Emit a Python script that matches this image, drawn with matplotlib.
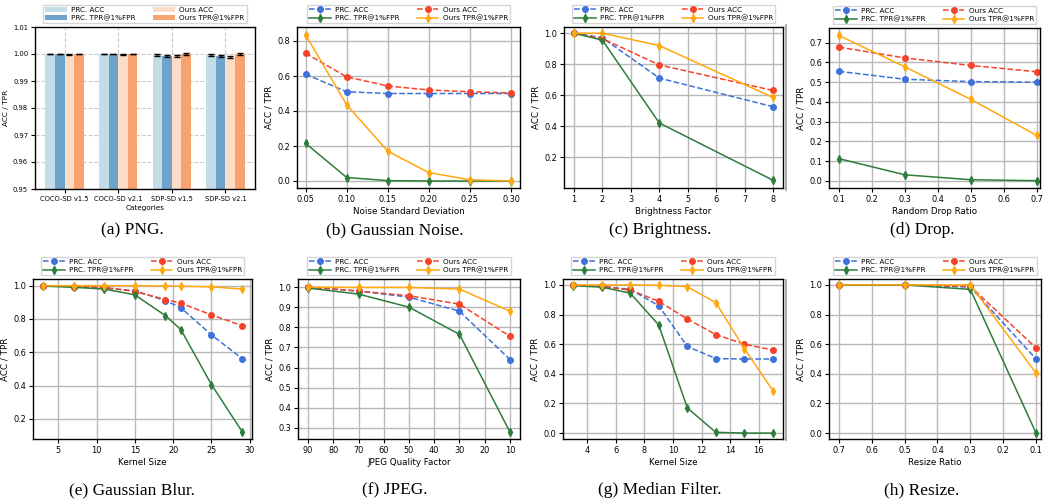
"""
Robustness of PRC vs Ours watermark detection under image perturbations.
"""

import numpy as np
import matplotlib
matplotlib.use('Agg')
import matplotlib.pyplot as plt
from matplotlib.lines import Line2D

plt.rcParams['font.family'] = 'DejaVu Sans'

# ---- (a) PNG bars ----
categories = ['COCO-SD v1.5', 'COCO-SD v2.1', 'SDP-SD v1.5', 'SDP-SD v2.1']
png_prc_acc = [1.0, 1.0, 0.9997, 0.9997]
png_prc_tpr = [1.0, 1.0, 0.9993, 0.9992]
png_ours_acc = [0.9999, 0.9998, 0.9993, 0.9989]
png_ours_tpr = [1.0, 1.0, 1.0, 1.0]
png_err = [0.0001, 0.0001, 0.0003, 0.0003]

# ---- (b) Gaussian noise ----
noise_x = [0.05, 0.10, 0.15, 0.20, 0.25, 0.30]
noise_prc_acc = [0.61, 0.51, 0.50, 0.50, 0.50, 0.50]
noise_ours_acc = [0.73, 0.595, 0.543, 0.52, 0.51, 0.503]
noise_prc_tpr = [0.215, 0.02, 0.002, 0.0, 0.0, 0.0]
noise_ours_tpr = [0.835, 0.435, 0.17, 0.048, 0.007, 0.0]

# ---- (c) Brightness ----
bright_x = [1, 2, 4, 8]
bright_prc_acc = [1.0, 0.97, 0.71, 0.525]
bright_ours_acc = [1.0, 0.965, 0.795, 0.63]
bright_prc_tpr = [1.0, 0.955, 0.42, 0.05]
bright_ours_tpr = [1.0, 1.0, 0.92, 0.585]

# ---- (d) Drop ----
drop_x = [0.1, 0.3, 0.5, 0.7]
drop_prc_acc = [0.555, 0.515, 0.503, 0.50]
drop_ours_acc = [0.678, 0.623, 0.585, 0.553]
drop_prc_tpr = [0.112, 0.03, 0.005, 0.0]
drop_ours_tpr = [0.737, 0.578, 0.413, 0.23]

# ---- (e) Gaussian blur ----
blur_x = [3, 7, 11, 15, 19, 21, 25, 29]
blur_prc_acc = [1.0, 0.995, 0.985, 0.97, 0.91, 0.868, 0.705, 0.563]
blur_ours_acc = [1.0, 0.995, 0.99, 0.965, 0.917, 0.895, 0.825, 0.76]
blur_prc_tpr = [0.998, 0.99, 0.98, 0.945, 0.82, 0.737, 0.407, 0.125]
blur_ours_tpr = [1.0, 1.0, 1.0, 1.0, 0.998, 0.997, 0.993, 0.98]

# ---- (f) JPEG ----
jpeg_x = [90, 70, 50, 30, 10]
jpeg_prc_acc = [1.0, 0.98, 0.95, 0.88, 0.64]
jpeg_ours_acc = [1.0, 0.98, 0.957, 0.915, 0.755]
jpeg_prc_tpr = [0.995, 0.965, 0.9, 0.765, 0.28]
jpeg_ours_tpr = [1.0, 0.998, 0.998, 0.99, 0.88]

# ---- (g) Median filter ----
median_x = [3, 5, 7, 9, 11, 13, 15, 17]
median_prc_acc = [1.0, 0.99, 0.97, 0.86, 0.585, 0.503, 0.5, 0.5]
median_ours_acc = [1.0, 0.99, 0.965, 0.89, 0.77, 0.665, 0.6, 0.56]
median_prc_tpr = [0.995, 0.985, 0.945, 0.73, 0.17, 0.005, 0.0, 0.0]
median_ours_tpr = [1.0, 1.0, 1.0, 0.998, 0.988, 0.88, 0.57, 0.285]

# ---- (h) Resize ----
resize_x = [0.7, 0.5, 0.3, 0.1]
resize_prc_acc = [1.0, 1.0, 0.985, 0.50]
resize_ours_acc = [1.0, 1.0, 0.99, 0.575]
resize_prc_tpr = [1.0, 1.0, 0.97, 0.0]
resize_ours_tpr = [1.0, 1.0, 1.0, 0.405]

LABELS = ['PRC. ACC', 'Ours ACC', 'PRC. TPR@1%FPR', 'Ours TPR@1%FPR']
C_BLUE = '#3f72d9'
C_RED = '#f5432a'
C_GREEN = '#2e7d3a'
C_ORANGE = '#ffa80f'
FS = 5.9
LEG_FS = 5.2

W, H = 1047, 500


def box(left, right, top, bottom):
    return [left / W, 1 - bottom / H, (right - left) / W, (bottom - top) / H]


def style(ax, fs=FS):
    ax.tick_params(labelsize=fs, length=3, width=0.8, pad=2)
    for sp in ax.spines.values():
        sp.set_linewidth(1.0)
    ax.set_ylabel('ACC / TPR', fontsize=fs + 0.4, labelpad=3)


def add_legend(ax, handles, labels):
    ax.legend(handles, labels, loc='lower center', bbox_to_anchor=(0.5, 1.0),
              ncol=2, fontsize=LEG_FS, frameon=True, borderpad=0.3,
              handlelength=3.0, columnspacing=2.4, labelspacing=0.25,
              handletextpad=0.6, fancybox=False, edgecolor='#cccccc')


def line_panel(ax, x, prc_acc, ours_acc, prc_tpr, ours_tpr, xlabel):
    series = [(prc_acc, C_BLUE, 'o', '--'), (ours_acc, C_RED, 'o', '--'),
              (prc_tpr, C_GREEN, 'd', '-'), (ours_tpr, C_ORANGE, 'd', '-')]
    handles = []
    for (vals, col, mk, ls), lab in zip(series, LABELS):
        err = np.full(len(vals), 0.008)
        h = ax.errorbar(x, vals, yerr=err, color=col, marker=mk, ls=ls,
                        lw=1.1, ms=4, elinewidth=1.0, capsize=0, label=lab)
        handles.append(h)
    ax.grid(True, color='#b8b8b8', lw=1.0)
    ax.set_axisbelow(True)
    ax.set_xlabel(xlabel, fontsize=FS + 0.4, labelpad=2)
    order = [0, 2, 1, 3]
    add_legend(ax, [handles[i] for i in order], [LABELS[i] for i in order])
    style(ax)


def main():
    fig = plt.figure(figsize=(W / 100, H / 100), dpi=100)

    # (a) PNG bars
    ax = fig.add_axes(box(35, 255, 27, 189))
    xs = np.arange(len(categories))
    bw = 0.18
    bar_sets = [(png_prc_acc, '#c3dde6'), (png_prc_tpr, '#6fa3cc'),
                (png_ours_acc, '#fcdcc5'), (png_ours_tpr, '#f6a271')]
    handles = []
    for i, (vals, col) in enumerate(bar_sets):
        h = ax.bar(xs + (i - 1.5) * bw, vals, bw, color=col,
                   yerr=png_err, capsize=2.5,
                   error_kw={'elinewidth': 1.0, 'capthick': 1.0})
        handles.append(h)
    ax.set_ylim(0.95, 1.01)
    ax.set_xlim(-0.55, 3.55)
    ax.set_yticks(np.arange(0.95, 1.011, 0.01))
    ax.set_xticks(xs)
    ax.set_xticklabels(categories)
    ax.set_xlabel('Categories', fontsize=5.2, labelpad=2)
    ax.grid(True, ls='--', color='#cccccc', lw=0.8)
    ax.set_axisbelow(True)
    add_legend(ax, handles, [LABELS[0], LABELS[2], LABELS[1], LABELS[3]])
    style(ax, fs=4.9)
    ax.yaxis.set_major_formatter(matplotlib.ticker.FormatStrFormatter('%.2f'))

    # (b)
    ax = fig.add_axes(box(297, 520, 27, 188))
    line_panel(ax, noise_x, noise_prc_acc, noise_ours_acc, noise_prc_tpr,
               noise_ours_tpr, 'Noise Standard Deviation')
    ax.set_xlim(0.0395, 0.311)
    ax.set_ylim(-0.04, 0.88)
    ax.set_xticks(noise_x)
    ax.set_yticks([0.0, 0.2, 0.4, 0.6, 0.8])

    # (c)
    ax = fig.add_axes(box(564, 783, 27, 188))
    line_panel(ax, bright_x, bright_prc_acc, bright_ours_acc, bright_prc_tpr,
               bright_ours_tpr, 'Brightness Factor')
    ax.set_xlim(0.65, 8.35)
    ax.set_ylim(0.0, 1.04)
    ax.set_yticks([0.2, 0.4, 0.6, 0.8, 1.0])

    # (d)
    ax = fig.add_axes(box(829, 1040, 28, 188))
    line_panel(ax, drop_x, drop_prc_acc, drop_ours_acc, drop_prc_tpr,
               drop_ours_tpr, 'Random Drop Ratio')
    ax.set_xlim(0.07, 0.71)
    ax.set_ylim(-0.037, 0.775)

    # (e)
    ax = fig.add_axes(box(33, 252, 279, 439))
    line_panel(ax, blur_x, blur_prc_acc, blur_ours_acc, blur_prc_tpr,
               blur_ours_tpr, 'Kernel Size')
    ax.set_xlim(1.7, 30.3)
    ax.set_ylim(0.08, 1.04)
    ax.set_yticks([0.2, 0.4, 0.6, 0.8, 1.0])

    # (f)
    ax = fig.add_axes(box(298, 520, 279, 439))
    line_panel(ax, jpeg_x, jpeg_prc_acc, jpeg_ours_acc, jpeg_prc_tpr,
               jpeg_ours_tpr, 'JPEG Quality Factor')
    ax.set_xlim(94, 6)
    ax.set_ylim(0.245, 1.04)
    ax.set_xticks(np.arange(90, 5, -10))

    # (g)
    ax = fig.add_axes(box(563, 783, 279, 439))
    line_panel(ax, median_x, median_prc_acc, median_ours_acc, median_prc_tpr,
               median_ours_tpr, 'Kernel Size')
    ax.set_xlim(2.3, 17.7)
    ax.set_ylim(-0.04, 1.04)

    # (h)
    ax = fig.add_axes(box(829, 1041, 279, 439))
    line_panel(ax, resize_x, resize_prc_acc, resize_ours_acc, resize_prc_tpr,
               resize_ours_tpr, 'Resize Ratio')
    ax.set_xlim(0.73, 0.085)
    ax.set_ylim(-0.04, 1.04)
    ax.set_xticks([0.7, 0.6, 0.5, 0.4, 0.3, 0.2, 0.1])

    # separator lines left of column 4 (frame of the source panels)
    for top, bottom in [(25, 190), (280, 440)]:
        fig.add_artist(Line2D([786 / W, 786 / W], [1 - bottom / H, 1 - top / H],
                              color='#999999', lw=1.2))

    captions = ['(a) PNG.', '(b) Gaussian Noise.', '(c) Brightness.', '(d) Drop.',
                '(e) Gaussian Blur.', '(f) JPEG.', '(g) Median Filter.', '(h) Resize.']
    cx = [132, 395, 660, 922]
    for i, cap in enumerate(captions):
        y = 230 if i < 4 else 490
        fig.text(cx[i % 4] / W, 1 - y / H, cap, ha='center', va='center',
                 fontsize=12.5, family='Liberation Serif')

    fig.savefig('out.png', dpi=100)


if __name__ == "__main__":
    main()
